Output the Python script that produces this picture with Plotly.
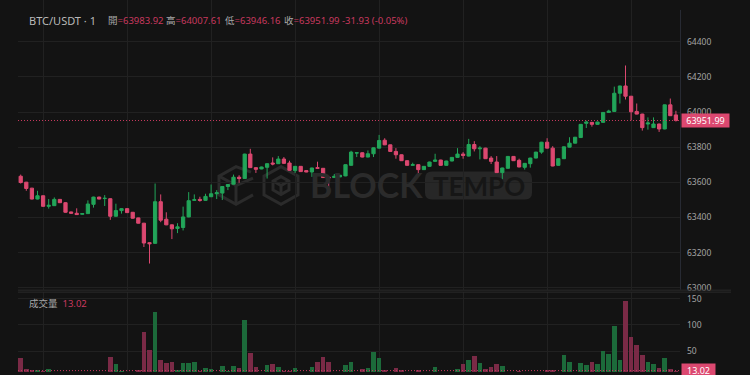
import plotly.graph_objects as go

W, H = 750, 375

# ---------------- data ----------------
idx = list(range(118))
opens = [63634.6, 63600.7, 63566.8, 63504.7, 63523.5, 63463.3, 63467.0, 63502.8, 63484.0, 63431.3,
         63423.7, 63418.1, 63421.8, 63474.6, 63515.9, 63507.5, 63506.6, 63406.8, 63438.8, 63450.1,
         63429.4, 63397.4, 63367.2, 63256.1, 63252.3, 63489.6, 63389.8, 63357.8, 63337.1, 63342.7,
         63402.9, 63497.2, 63502.8, 63497.2, 63517.9, 63534.9, 63538.6, 63576.3, 63589.5, 63629.0,
         63621.5, 63760.8, 63683.6, 63676.1, 63685.5, 63710.0, 63706.2, 63732.6, 63710.0, 63666.7,
         63691.1, 63666.7, 63659.1, 63683.6, 63679.8, 63629.0, 63627.1, 63630.9, 63636.5, 63696.8,
         63766.5, 63768.4, 63743.9, 63762.7, 63794.7, 63839.9, 63813.5, 63775.9, 63757.0, 63723.2,
         63696.8, 63700.5, 63672.3, 63691.1, 63719.4, 63726.9, 63696.8, 63721.3, 63742.0, 63760.8,
         63749.5, 63815.4, 63791.0, 63794.7, 63738.2, 63715.6, 63655.4, 63679.8, 63747.6, 63725.1,
         63685.5, 63706.2, 63738.2, 63772.1, 63828.6, 63794.7, 63696.8, 63734.5, 63800.4, 63823.0,
         63855.0, 63936.0, 63941.6, 63930.3, 63941.6, 63998.1, 64003.8, 64107.4, 64148.8, 64090.4,
         64003.8, 63988.7, 63932.2, 63911.5, 63932.2, 63903.9, 64041.4, 63983.92]
highs = [63644.0, 63602.5, 63568.5, 63551.8, 63525.2, 63504.7, 63514.1, 63505.0, 63486.0, 63433.0,
         63451.9, 63423.4, 63497.2, 63518.0, 63518.1, 63527.3, 63509.0, 63478.3, 63452.0, 63452.2,
         63431.2, 63399.0, 63369.0, 63258.0, 63593.2, 63531.1, 63429.4, 63360.0, 63367.2, 63461.4,
         63544.3, 63531.1, 63517.9, 63534.9, 63587.6, 63555.6, 63578.0, 63589.2, 63644.0, 63640.3,
         63762.7, 63790.9, 63685.2, 63689.0, 63708.0, 63742.0, 63749.5, 63743.9, 63723.1, 63692.8,
         63692.9, 63668.4, 63683.3, 63717.5, 63681.5, 63630.7, 63647.8, 63642.0, 63702.2, 63779.7,
         63770.0, 63770.1, 63781.6, 63798.3, 63870.0, 63851.2, 63815.2, 63794.7, 63758.7, 63724.9,
         63711.8, 63702.2, 63692.8, 63717.3, 63762.7, 63728.6, 63723.0, 63743.7, 63794.7, 63772.1,
         63847.5, 63834.3, 63806.0, 63796.4, 63749.5, 63749.5, 63683.4, 63749.3, 63749.3, 63734.5,
         63709.8, 63739.9, 63773.8, 63830.3, 63851.2, 63806.0, 63736.2, 63804.0, 63856.9, 63858.6,
         63932.0, 63951.1, 63943.3, 63945.2, 63999.8, 64013.2, 64145.0, 64150.5, 64265.5, 64092.1,
         64049.0, 63990.4, 63969.9, 63969.9, 63933.9, 64042.7, 64077.2, 64007.61]
lows = [63593.2, 63551.8, 63502.5, 63502.8, 63461.0, 63450.1, 63465.2, 63482.0, 63427.2, 63422.0,
        63414.2, 63416.6, 63420.2, 63455.8, 63503.0, 63465.2, 63386.1, 63405.0, 63421.8, 63425.8,
        63393.5, 63365.3, 63231.6, 63137.4, 63250.5, 63372.9, 63356.0, 63276.8, 63310.7, 63325.8,
        63401.0, 63495.8, 63489.6, 63495.5, 63516.2, 63504.7, 63499.1, 63555.6, 63588.0, 63597.0,
        63620.0, 63682.0, 63653.5, 63674.5, 63621.5, 63696.8, 63704.5, 63706.4, 63666.8, 63653.5,
        63659.2, 63657.4, 63630.9, 63678.2, 63625.4, 63572.5, 63625.4, 63629.2, 63634.8, 63695.1,
        63743.9, 63742.2, 63742.2, 63743.9, 63793.0, 63811.8, 63774.2, 63734.5, 63721.5, 63695.1,
        63695.0, 63649.7, 63670.6, 63689.4, 63717.7, 63695.1, 63695.1, 63719.6, 63740.3, 63734.5,
        63747.8, 63775.9, 63730.7, 63732.8, 63704.3, 63653.7, 63617.7, 63678.1, 63721.5, 63685.7,
        63672.3, 63683.6, 63736.5, 63762.7, 63793.0, 63691.3, 63695.1, 63732.8, 63798.7, 63821.3,
        63853.3, 63909.6, 63917.1, 63928.6, 63939.9, 63996.4, 64002.1, 64049.0, 64071.6, 63952.9,
        63987.0, 63894.6, 63900.2, 63909.8, 63887.0, 63902.2, 63977.6, 63946.16]
closes = [63598.8, 63565.0, 63504.7, 63523.5, 63463.3, 63468.9, 63502.8, 63484.0, 63429.4, 63423.7,
          63416.2, 63421.8, 63476.4, 63515.9, 63504.7, 63509.0, 63406.8, 63438.8, 63450.1, 63427.5,
          63395.5, 63367.2, 63254.2, 63250.4, 63489.6, 63384.2, 63357.8, 63335.2, 63346.5, 63402.9,
          63495.3, 63500.9, 63497.2, 63519.8, 63534.9, 63540.5, 63576.3, 63587.6, 63629.0, 63621.5,
          63760.8, 63683.6, 63674.2, 63687.4, 63706.2, 63704.3, 63732.6, 63708.1, 63668.5, 63691.1,
          63661.0, 63659.1, 63681.7, 63679.8, 63627.1, 63625.2, 63634.6, 63640.3, 63700.5, 63772.1,
          63768.4, 63743.9, 63762.7, 63796.6, 63838.0, 63813.5, 63775.9, 63757.0, 63723.2, 63696.8,
          63700.5, 63672.3, 63691.1, 63715.6, 63726.9, 63696.8, 63721.3, 63742.0, 63760.8, 63753.3,
          63815.4, 63791.0, 63794.7, 63734.5, 63719.4, 63655.4, 63681.7, 63747.6, 63723.2, 63687.4,
          63708.1, 63738.2, 63772.1, 63828.6, 63794.7, 63693.0, 63734.5, 63802.3, 63823.0, 63856.9,
          63930.3, 63943.5, 63930.3, 63943.5, 63998.1, 64005.7, 64107.4, 64148.8, 64090.4, 64001.9,
          63988.7, 63911.5, 63937.9, 63932.2, 63903.9, 64041.4, 63979.3, 63951.99]
volumes = [37.4, 16, 14, 14, 13, 16, 11, 7, 8, 6,
           5, 6, 9, 7, 5, 12, 38.7, 26, 13, 8,
           9, 14, 87.7, 53.8, 124.9, 33, 27.4, 30.5, 15, 28.6,
           28.6, 30.5, 13, 18, 16, 12, 23, 13, 21.7, 18.9,
           109.8, 48, 19.8, 9, 23.6, 25.5, 20.8, 13, 13, 18,
           8, 7, 20.8, 29.2, 40, 29.2, 9, 8, 23.6, 30.5,
           9, 16, 18, 49.4, 36.8, 15, 8, 19, 14, 7,
           6, 15, 8, 9, 20, 7, 8, 9, 17, 26.7,
           33, 40.6, 28, 17, 21, 25.5, 22, 9, 8, 13,
           9, 12, 8, 9, 14, 15, 12, 44.3, 29.9, 12,
           27.4, 25, 31, 26.7, 51.2, 45, 97.8, 33.7, 146.2, 77.7,
           62.6, 42.5, 31, 26.7, 18, 37.4, 17, 13.02]
price_ticks = [63000, 63200, 63400, 63600, 63800, 64000, 64200, 64400]
vol_ticks = [50, 100, 150]
grid_idx = [4, 19, 34, 49, 64, 79, 94, 109]
symbol = "BTC/USDT · 1"
ohlc_labels = ["開", "高", "低", "收"]
last_o, last_h, last_l, last_c = opens[-1], highs[-1], lows[-1], closes[-1]
last_vol = volumes[-1]

# ---------------- style ----------------
BG = "#131313"
GRID = "#212121"
UP = "#22a559"
DOWN = "#dc4870"
VUP = "#1c6a3a"
VDOWN = "#7a2a46"
PINK = "#c9395f"
LABEL = "#a8a8a8"
TICK = "#a3a3a3"
WM = "#2b2b2b"
FONT = "Noto Sans, Noto Sans CJK TC, sans-serif"


def px(x):
    return x / W


def py(y):
    return (H - y) / H


vcolors = [VUP if c >= o else VDOWN for o, c in zip(opens, closes)]

fig = go.Figure()
fig.add_trace(go.Candlestick(
    x=idx, open=opens, high=highs, low=lows, close=closes,
    increasing=dict(line=dict(color=UP, width=1), fillcolor=UP),
    decreasing=dict(line=dict(color=DOWN, width=1), fillcolor=DOWN),
    whiskerwidth=0, hoverinfo="skip", showlegend=False,
    xaxis="x", yaxis="y"))
fig.add_trace(go.Bar(
    x=idx, y=volumes, marker=dict(color=vcolors, line=dict(width=0)),
    width=0.84, hoverinfo="skip", showlegend=False, xaxis="x2", yaxis="y2"))

xdom = [px(18), px(680)]
xr = [-0.482, 117.73]
common_x = dict(domain=xdom, range=xr, tickvals=grid_idx, showticklabels=False,
                showgrid=True, gridcolor=GRID, gridwidth=1, zeroline=False,
                showline=False, ticks="", fixedrange=True)

fig.update_layout(
    width=W, height=H,
    margin=dict(l=0, r=0, t=0, b=0),
    paper_bgcolor=BG, plot_bgcolor=BG,
    boxgap=0.42, boxgroupgap=0,
    bargap=0,
    showlegend=False,
    xaxis=dict(anchor="y", rangeslider=dict(visible=False), **common_x),
    xaxis2=dict(anchor="y2", matches="x", **common_x),
    yaxis=dict(domain=[py(292), 1], range=[62988.6, 64638.5], side="right",
               anchor="x", tickvals=price_ticks, tickformat="d", showgrid=True,
               gridcolor=GRID, zeroline=False, showline=False, ticks="",
               ticklabelstandoff=6,
               tickfont=dict(family=FONT, size=8.5, color=TICK)),
    yaxis2=dict(domain=[0, py(294)], range=[10.4, 163.2], side="right",
                anchor="x2", tickvals=vol_ticks, tickformat="d", showgrid=True,
                gridcolor=GRID, zeroline=False, showline=False, ticks="",
                ticklabelstandoff=6,
                tickfont=dict(family=FONT, size=8.5, color=TICK)),
)

shapes = []
# last price dotted lines
shapes.append(dict(type="line", xref="paper", yref="y", x0=xdom[0], x1=xdom[1],
                   y0=last_c, y1=last_c, line=dict(color=PINK, width=1, dash="1px,2px"),
                   layer="above"))
shapes.append(dict(type="line", xref="paper", yref="y2", x0=xdom[0], x1=xdom[1],
                   y0=last_vol, y1=last_vol, line=dict(color=PINK, width=1, dash="1px,2px"),
                   layer="above"))
# pane separator
for yy in (292.5, 294.5):
    shapes.append(dict(type="line", xref="paper", yref="paper", x0=px(18), x1=px(731),
                       y0=py(yy), y1=py(yy), line=dict(color="#2a2a2a", width=1)))
# right axis line
shapes.append(dict(type="line", xref="paper", yref="paper", x0=px(680.5), x1=px(680.5),
                   y0=py(10), y1=py(292), line=dict(color="#272a33", width=1)))


# watermark: TEMPO rounded box
def rrect(x0, y0, x1, y1, r):
    X0, X1 = px(x0), px(x1)
    Y0, Y1 = py(y0), py(y1)
    rx, ry = r / W, r / H
    return (f"M {X0+rx},{Y0} L {X1-rx},{Y0} Q {X1},{Y0} {X1},{Y0-ry} "
            f"L {X1},{Y1+ry} Q {X1},{Y1} {X1-rx},{Y1} L {X0+rx},{Y1} "
            f"Q {X0},{Y1} {X0},{Y1+ry} L {X0},{Y0-ry} Q {X0},{Y0} {X0+rx},{Y0} Z")


shapes.append(dict(type="path", xref="paper", yref="paper",
                   path=rrect(425, 173, 532, 201, 7), fillcolor="#272727",
                   line=dict(width=0), layer="between"))


def poly(pts, close=True):
    s = "M " + " L ".join(f"{px(a)},{py(b)}" for a, b in pts)
    return s + (" Z" if close else "")


# cube icons
cx, cy, r = 281, 187, 19
hexpts = [(cx, cy - r), (cx + 17, cy - r / 2), (cx + 17, cy + r / 2), (cx, cy + r),
          (cx - 17, cy + r / 2), (cx - 17, cy - r / 2)]
shapes.append(dict(type="path", xref="paper", yref="paper", path=poly(hexpts),
                   line=dict(color=WM, width=3), layer="between"))
ir = 9
inner = [(cx, cy - ir), (cx + 8, cy - ir / 2), (cx + 8, cy + ir / 2), (cx, cy + ir),
         (cx - 8, cy + ir / 2), (cx - 8, cy - ir / 2)]
shapes.append(dict(type="path", xref="paper", yref="paper", path=poly(inner),
                   line=dict(color=WM, width=3), layer="between"))
shapes.append(dict(type="path", xref="paper", yref="paper",
                   path=poly([(cx - 8, cy - ir / 2), (cx, cy), (cx + 8, cy - ir / 2)], False),
                   line=dict(color=WM, width=3), layer="between"))
shapes.append(dict(type="path", xref="paper", yref="paper",
                   path=poly([(cx, cy), (cx, cy + ir)], False),
                   line=dict(color=WM, width=3), layer="between"))
# first (broken) cube
bx = 236
shapes.append(dict(type="path", xref="paper", yref="paper",
                   path=poly([(bx + 15, cy - r / 2 - 4), (bx, cy - r), (bx - 17, cy - r / 2),
                              (bx - 17, cy + r / 2), (bx, cy + r), (bx + 17, cy + r / 2)], False),
                   line=dict(color=WM, width=3), layer="between"))
shapes.append(dict(type="path", xref="paper", yref="paper",
                   path=poly([(bx - 17, cy - r / 2), (bx, cy), (bx + 17, cy - r / 2 + 2)], False),
                   line=dict(color=WM, width=3), layer="between"))
shapes.append(dict(type="path", xref="paper", yref="paper",
                   path=poly([(bx, cy), (bx, cy + r)], False),
                   line=dict(color=WM, width=3), layer="between"))
fig.update_layout(shapes=shapes)

ann = []
# header
ann.append(dict(text=symbol, x=px(27), y=py(21), xref="paper", yref="paper",
                xanchor="left", yanchor="middle", showarrow=False,
                font=dict(family=FONT, size=11, color="#b9b9b9")))
vals = [last_o, last_h, last_l, last_c]
xs = [106, 164, 223, 282]
for lab, v, xx in zip(ohlc_labels, vals, xs):
    ann.append(dict(text=f"<span style='color:{LABEL}'>{lab}</span>=<span style='color:{PINK}'>{v:.2f}</span>",
                    x=px(xx), y=py(21), xref="paper", yref="paper", xanchor="left",
                    yanchor="middle", showarrow=False,
                    font=dict(family=FONT, size=9.5, color=PINK)))
chg = last_c - last_o
pct = chg / last_o * 100
ann.append(dict(text=f"{chg:.2f} ({pct:.2f}%)", x=px(340), y=py(21), xref="paper",
                yref="paper", xanchor="left", yanchor="middle", showarrow=False,
                font=dict(family=FONT, size=9.5, color=PINK)))
# volume title
ann.append(dict(text=f"<span style='color:{LABEL}'>成交量</span>  <span style='color:{PINK}'>{last_vol:.2f}</span>",
                x=px(27), y=py(305.5), xref="paper", yref="paper", xanchor="left",
                yanchor="middle", showarrow=False,
                font=dict(family=FONT, size=9.5, color=LABEL)))
# price labels
ann.append(dict(text=f"{last_c:.2f}", x=px(681), y=last_c, xref="paper", yref="y",
                xanchor="left", yanchor="middle", showarrow=False, bgcolor=DOWN,
                width=45, height=11, borderpad=1, align="center",
                font=dict(family=FONT, size=9, color="#ffffff")))
ann.append(dict(text=f"{last_vol:.2f}", x=px(680.5), y=last_vol, xref="paper", yref="y2",
                xanchor="left", yanchor="middle", showarrow=False, bgcolor=DOWN,
                width=31, height=11, borderpad=1, align="center",
                font=dict(family=FONT, size=9, color="#ffffff")))
# watermark text
ann.append(dict(text="<b>BLOCK</b>", x=px(366), y=py(186), xref="paper", yref="paper",
                xanchor="center", yanchor="middle", showarrow=False,
                font=dict(family="Lato, Noto Sans", size=34, color=WM)))
ann.append(dict(text="<b>TEMPO</b>", x=px(478.5), y=py(187.5), xref="paper", yref="paper",
                xanchor="center", yanchor="middle", showarrow=False,
                font=dict(family="Lato, Noto Sans", size=26, color="#161616")))
fig.update_layout(annotations=ann)

fig.write_html("out.html")
